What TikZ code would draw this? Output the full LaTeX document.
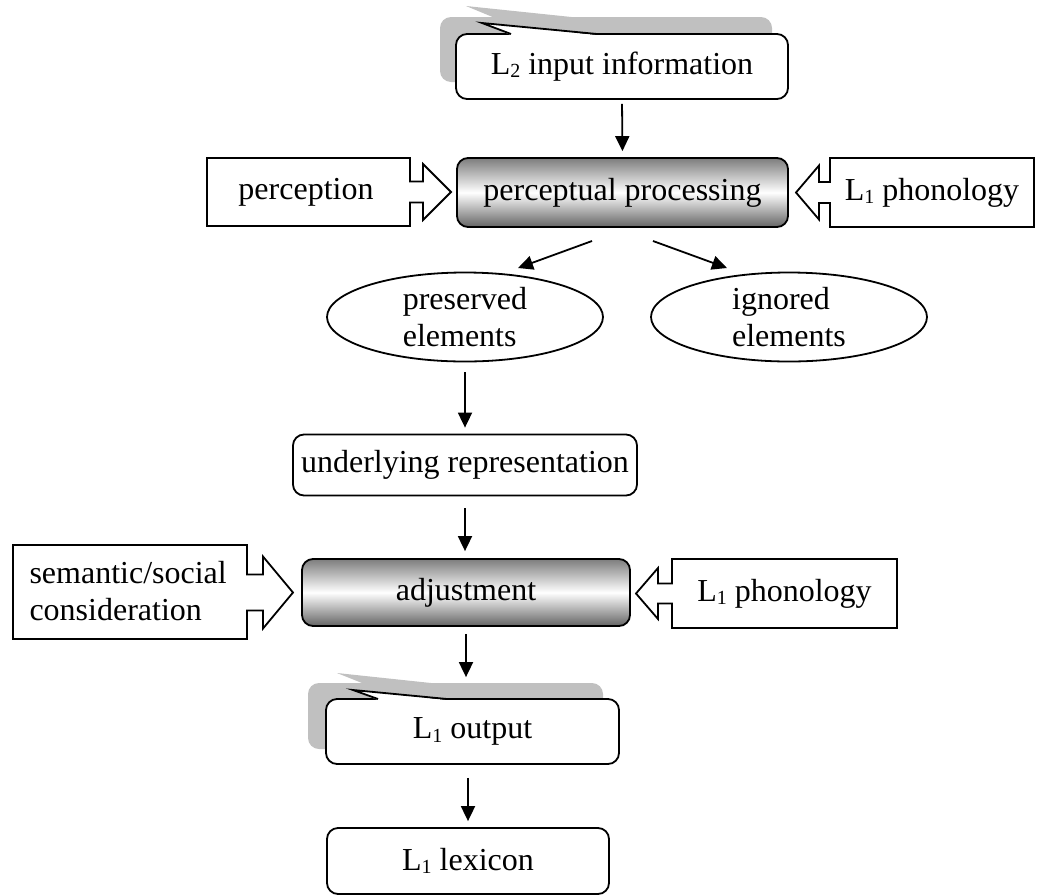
\documentclass[tikz,border=0pt]{standalone}
\usepackage{fontspec}
\setmainfont{Liberation Serif}
\usetikzlibrary{arrows.meta,shapes.geometric}
\definecolor{shadowgray}{RGB}{192,192,192}
\definecolor{gtop}{RGB}{125,125,125}
\definecolor{gbot}{RGB}{100,100,100}
\newcommand\lsub[1]{\raisebox{-3.5pt}{\fontsize{20}{20}\selectfont #1}}
\begin{document}
\begin{tikzpicture}[x=1pt,y=-1pt,
  font=\fontsize{32}{37}\selectfont,
  lw/.style={line width=1.8pt},
  rbox/.style={draw, lw, rounded corners=11pt, fill=white, inner sep=0pt},
  gbox/.style={rbox, top color=gtop, bottom color=gbot, middle color=white},
  ell/.style={draw, lw, ellipse, minimum width=276pt, minimum height=89pt, inner sep=0pt},
  blockarrow/.style={draw, lw, fill=white, line join=miter},
  wedge/.style={lw, line join=miter},
  arr/.style={draw, lw, -{Triangle[length=15pt,width=14pt]}}
]
\useasboundingbox (0,0) rectangle (1039,895);

% ---- top callout: L2 input information
\fill[shadowgray, rounded corners=11pt] (440,17) rectangle (772,82);
\fill[shadowgray] (495,18) -- (466,6) -- (581,18) -- cycle;
\node[rbox, minimum width=332pt, minimum height=65pt] (inp) at (622,66.5) {L\lsub{2} input information};
\fill[white] (511,35) -- (482,23) -- (597,35) -- cycle;
\draw[wedge] (511,34) -- (482,23) -- (597,34);

% ---- perceptual processing
\node[gbox, minimum width=331pt, minimum height=69pt] (pp) at (622.5,192.5) {perceptual processing};

% perception block arrow
\draw[blockarrow] (207,158) -- (410,158) -- (410,181.5) -- (423,181.5) -- (423,164) -- (451,192)
  -- (423,220) -- (423,202.5) -- (410,202.5) -- (410,226) -- (207,226) -- cycle;
\node (perc) at (306,192) {perception};

% L1 phonology (top) block arrow
\draw[blockarrow] (1034,158) -- (830,158) -- (830,182) -- (819,182) -- (819,165.5) -- (796,192.5)
  -- (819,219.5) -- (819,203) -- (830,203) -- (830,227) -- (1034,227) -- cycle;
\node (ph1) at (932,192.5) {L\lsub{1} phonology};

\draw[arr, shorten <=4pt, shorten >=6pt] (inp.south) -- (pp.north);

% ---- ellipses
\node[ell] (pres) at (465,317) {};
\node[align=left] (prest) at (pres) {preserved\\elements};
\node[ell] (ign) at (789,317) {};
\node[align=left] (ignt) at (ign) {ignored\\elements};

\coordinate (pl1) at (592,241);
\coordinate (pl2) at (518,268);
\coordinate (pr1) at (653,241);
\coordinate (pr2) at (727,268);
\draw[arr] (pl1) -- (pl2);
\draw[arr] (pr1) -- (pr2);

% ---- underlying representation
\node[rbox, minimum width=344pt, minimum height=61pt] (ul) at (465,465) {underlying representation};
\draw[arr, shorten <=10pt, shorten >=6pt] (pres.south) -- (ul.north);

% ---- adjustment
\node[gbox, minimum width=328pt, minimum height=67pt] (adj) at (466,592.5) {adjustment};
\draw[arr, shorten <=12pt, shorten >=7pt] (ul.south) -- (ul.south |- adj.north);

% semantic/social block arrow
\draw[blockarrow] (13,545) -- (247,545) -- (247,574.5) -- (263,574.5) -- (263,556.5) -- (293,592.5)
  -- (263,628.5) -- (263,610.5) -- (247,610.5) -- (247,639) -- (13,639) -- cycle;
\node[align=left, anchor=west] (sem) at (26,591) {semantic/social\\consideration};

% L1 phonology (lower) block arrow
\draw[blockarrow] (897,559) -- (672,559) -- (672,583.5) -- (658,583.5) -- (658,568) -- (636,593.5)
  -- (658,619) -- (658,603.5) -- (672,603.5) -- (672,628) -- (897,628) -- cycle;
\node (ph2) at (784.5,593.5) {L\lsub{1} phonology};

% ---- L1 output callout
\fill[shadowgray, rounded corners=11pt] (308,683) rectangle (603,749);
\fill[shadowgray] (362,683) -- (337,673) -- (431,683) -- cycle;
\node[rbox, minimum width=293pt, minimum height=65pt] (out) at (472.5,731.5) {L\lsub{1} output};
\fill[white] (378,700) -- (353,690) -- (447,700) -- cycle;
\draw[wedge] (378,699) -- (353,690) -- (447,699);
\draw[arr, shorten <=7pt, shorten >=21pt] (adj.south) -- (adj.south |- out.north);

% ---- L1 lexicon
\node[rbox, minimum width=282pt, minimum height=66pt] (lex) at (468,861) {L\lsub{1} lexicon};
\draw[arr, shorten <=13pt, shorten >=6pt] (lex.north |- out.south) -- (lex.north);
\end{tikzpicture}
\end{document}
